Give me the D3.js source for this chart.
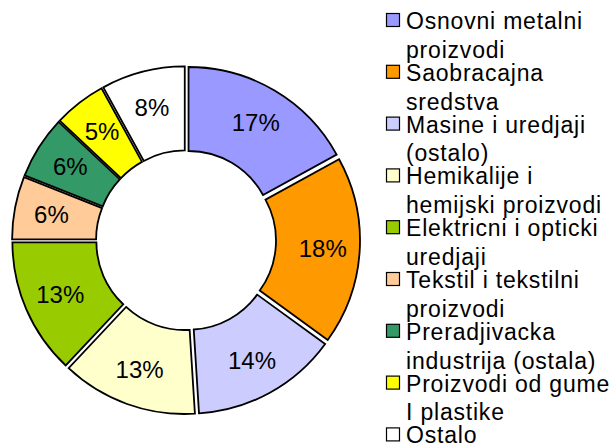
<!DOCTYPE html>
<html>
<head>
<meta charset="utf-8">
<script src="https://cdn.jsdelivr.net/npm/d3@7"></script>
<style>
  html, body { margin: 0; padding: 0; background: #fff; }
  svg { display: block; }
  text { font-family: "Liberation Sans", Arial, sans-serif; fill: #000; }
</style>
</head>
<body>
<svg id="chart" width="612" height="445"></svg>
<script>
// ---- data ----
const categories = [
  ["Osnovni metalni", "proizvodi"],
  ["Saobracajna", "sredstva"],
  ["Masine i uredjaji", "(ostalo)"],
  ["Hemikalije i", "hemijski proizvodi"],
  ["Elektricni i opticki", "uredjaji"],
  ["Tekstil i tekstilni", "proizvodi"],
  ["Preradjivacka", "industrija (ostala)"],
  ["Proizvodi od gume", "I plastike"],
  ["Ostalo"]
];
const values = [17, 18, 14, 13, 13, 6, 6, 5, 8];
const colors = ["#9999FF", "#FF9900", "#CCCCFF", "#FFFFCC", "#99CC00", "#FFCC99", "#339966", "#FFFF00", "#FFFFFF"];

// ---- layout ----
const svg = d3.select("#chart");
const cx = 186, cy = 240.3;
const outerR = 169, innerR = 85, explode = 5;

const pie = d3.pie().sort(null).value(d => d)(values);
const arc = d3.arc().innerRadius(innerR).outerRadius(outerR);
const labelArc = d3.arc().innerRadius((innerR + outerR) / 2 + 5).outerRadius((innerR + outerR) / 2 + 5);

const g = svg.append("g").attr("transform", `translate(${cx},${cy})`);

const slices = g.selectAll("g.slice").data(pie).enter().append("g")
  .attr("class", "slice")
  .attr("transform", d => {
    const a = (d.startAngle + d.endAngle) / 2;
    return `translate(${explode * Math.sin(a)},${-explode * Math.cos(a)})`;
  });

slices.append("path")
  .attr("d", arc)
  .attr("fill", (d, i) => colors[i])
  .attr("stroke", "#000")
  .attr("stroke-width", 1.8)
  .attr("stroke-linejoin", "miter");

slices.append("text")
  .attr("transform", d => `translate(${labelArc.centroid(d)})`)
  .attr("text-anchor", "middle")
  .attr("dy", "0.35em")
  .style("font-size", "24px")
  .text(d => d.data + "%");

// ---- legend ----
const legendX = 386, legendY0 = 29, itemStep = 51.8, lineStep = 28.8;
const legend = svg.append("g");
categories.forEach((lines, i) => {
  const by = legendY0 + i * itemStep;
  legend.append("rect")
    .attr("x", legendX + 0.5).attr("y", by - 15.5)
    .attr("width", 13).attr("height", 13)
    .attr("fill", colors[i]).attr("stroke", "#000").attr("stroke-width", 1.2);
  lines.forEach((t, j) => {
    legend.append("text")
      .attr("x", legendX + 20).attr("y", by + j * lineStep)
      .style("font-size", "23px")
      .style("letter-spacing", "0.8px")
      .text(t);
  });
});
</script>
</body>
</html>
